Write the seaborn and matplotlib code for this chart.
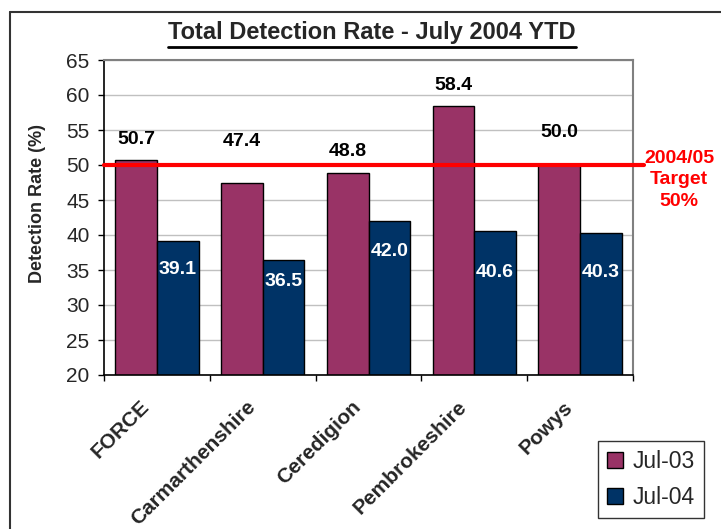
import pandas as pd
import matplotlib.pyplot as plt
import seaborn as sns
from matplotlib.lines import Line2D
from matplotlib.transforms import ScaledTranslation

# Data
areas = ["FORCE", "Carmarthenshire", "Ceredigion", "Pembrokeshire", "Powys"]
jul_03 = [50.7, 47.4, 48.8, 58.4, 50.0]
jul_04 = [39.1, 36.5, 42.0, 40.6, 40.3]
periods = ["Jul-03", "Jul-04"]
target = 50

# Label placement (distance from bar top, in axis units)
gap_03 = [3.0, 5.9, 3.1, 2.9, 4.6]
gap_04 = [4.1, 3.1, 4.3, 6.0, 5.7]

df = pd.DataFrame({
    "Area": areas * 2,
    "Period": [periods[0]] * len(areas) + [periods[1]] * len(areas),
    "Rate": jul_03 + jul_04,
})

sns.set_style("white")
plt.rcParams["font.family"] = ["Liberation Sans", "DejaVu Sans"]

W, H = 721, 529
fig = plt.figure(figsize=(W / 100, H / 100), dpi=100)
ax = fig.add_axes([104 / W, 1 - 375 / H, (633 - 104) / W, (375 - 60) / H])

sns.barplot(
    data=df, x="Area", y="Rate", hue="Period",
    palette=["#993366", "#003366"], saturation=1,
    width=0.79, edgecolor="black", linewidth=1.0,
    errorbar=None, ax=ax, zorder=2,
)

# Axis styling
ax.set_ylim(20, 65)
ax.set_yticks(range(20, 66, 5))
ax.yaxis.grid(True, color="#c0c0c0", linewidth=1.0, zorder=0)
ax.set_axisbelow(True)
ax.tick_params(axis="y", direction="out", length=4.5, width=1, color="black",
               labelsize=15, pad=6, left=True)
ax.set_xlim(-0.5, 4.5)
ax.set_xticks(range(len(areas)))
ax.set_xticks([i - 0.5 for i in range(len(areas) + 1)], minor=True)
ax.tick_params(axis="x", which="major", length=0, pad=16)
ax.tick_params(axis="x", which="minor", direction="out", length=4, width=1,
               color="black", bottom=True)
ax.set_xticklabels(areas, rotation=45, ha="right", va="top",
                   rotation_mode="anchor", fontsize=15, fontweight="bold")
shift = ScaledTranslation(-17 / 100, 0, fig.dpi_scale_trans)
for lab in ax.get_xticklabels():
    lab.set_transform(lab.get_transform() + shift)
for s in ["left", "bottom"]:
    ax.spines[s].set_color("black")
    ax.spines[s].set_linewidth(1.2)
for s in ["top", "right"]:
    ax.spines[s].set_color("#808080")
    ax.spines[s].set_linewidth(1.5)

ax.set_xlabel("")
ax.set_ylabel("Detection Rate (%)", fontsize=13, fontweight="bold")
ax.yaxis.set_label_coords(-0.11, 0.543)

# Value labels
for bar, g in zip(ax.containers[0], gap_03):
    x = bar.get_x() + bar.get_width() / 2
    h = bar.get_height()
    ax.text(x, h + g, f"{h:.1f}", ha="center", va="center",
            fontsize=14, fontweight="bold", color="black", zorder=5)
for bar, g in zip(ax.containers[1], gap_04):
    x = bar.get_x() + bar.get_width() / 2
    h = bar.get_height()
    ax.text(x, h - g, f"{h:.1f}", ha="center", va="center",
            fontsize=14, fontweight="bold", color="white", zorder=5)

# Target line
ax.plot([-0.5, 4.6], [target, target], color="#ff0000", linewidth=3,
        clip_on=False, zorder=4)
fig.text(679 / W, 1 - 180 / H, f"2004/05\nTarget\n{target}%", ha="center",
         va="center", color="#ff0000", fontsize=14, fontweight="bold",
         linespacing=1.35)

# Legend
handles, labels = ax.get_legend_handles_labels()
leg = ax.legend(
    handles, labels, loc="upper left",
    bbox_to_anchor=(598 / W, 1 - 441 / H), bbox_transform=fig.transFigure,
    fontsize=16.5, frameon=True, fancybox=False, edgecolor="black",
    handlelength=0.7, handleheight=0.7, handletextpad=0.4,
    labelspacing=0.55, borderpad=0.4, borderaxespad=0,
)
leg.get_frame().set_linewidth(1.0)

# Title with underline
title = fig.text(372 / W, 1 - 33 / H, "Total Detection Rate - July 2004 YTD",
                 ha="center", va="center", fontsize=17, fontweight="bold")
fig.canvas.draw()
bb = title.get_window_extent()
fig.add_artist(Line2D([bb.x0 / W, bb.x1 / W], [1 - 47 / H, 1 - 47 / H],
                      transform=fig.transFigure, color="black", linewidth=2))

# Chart border
fig.add_artist(Line2D([10 / W, 1.0], [1 - 12 / H, 1 - 12 / H],
                      transform=fig.transFigure, color="#333333", linewidth=1.5))
fig.add_artist(Line2D([10 / W, 10 / W], [0.0, 1 - 12 / H],
                      transform=fig.transFigure, color="#333333", linewidth=1.5))

fig.savefig("out.png", dpi=100)
plt.close()
